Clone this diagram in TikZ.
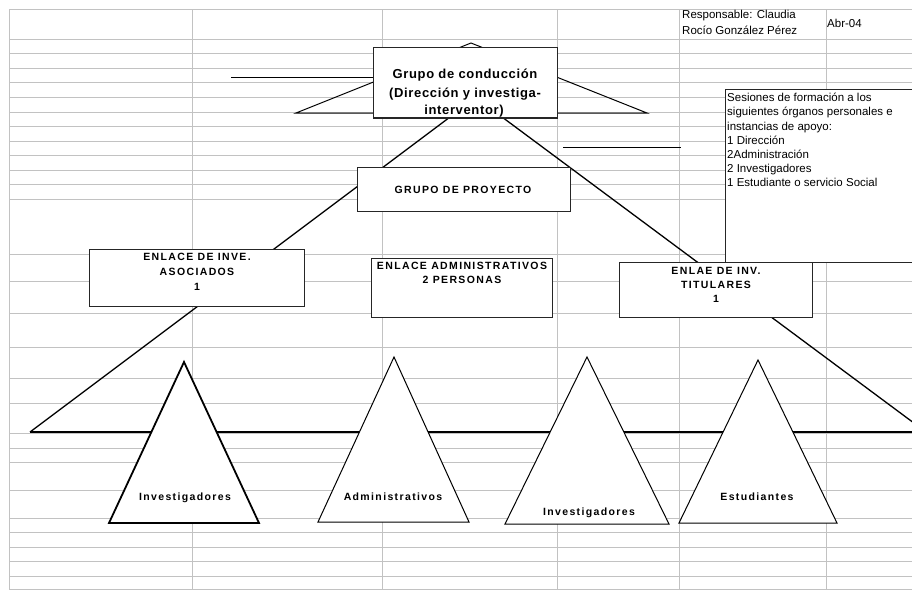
\documentclass[tikz,border=0pt]{standalone}
\usepackage{fontspec}
\setmainfont{Liberation Sans}
\newfontfamily\spacedfont[LetterSpace=13]{Liberation Sans}
\newfontfamily\medspaced[LetterSpace=5]{Liberation Sans}
\begin{document}
\begin{tikzpicture}[x=1pt,y=-1pt,
  gridline/.style={draw=black!24,line width=1pt},
  ink/.style={draw=black,line width=1.3pt},
  box/.style={draw=black!85,line width=1.2pt,fill=white,inner sep=0,anchor=north west},
  tri/.style={draw=black,line width=1pt,fill=white,line join=miter},
  t/.style={inner sep=0,text height=0.72em,text depth=0.2em},
  caps/.style={t,font=\spacedfont\bfseries\fontsize{10.5}{12}\selectfont},
  plain/.style={t,anchor=west,font=\fontsize{11.5}{13}\selectfont},
  big/.style={t,font=\medspaced\bfseries\fontsize{13}{16}\selectfont}]
\useasboundingbox (0,0) rectangle (912,590);
\clip (0,0) rectangle (912,590);
\fill[white] (0,0) rectangle (912,590);
% spreadsheet grid
\foreach \yy in {9.5,39,53,68,82,97,112,126,141,155,170,184,199,254,281,313,347,378,403,433,448,462,490,518,532,547,561,576,589}
  \draw[gridline] (9,\yy) -- (912,\yy);
\foreach \xx in {9,192,382,557,679,826}
  \draw[gridline] (\xx,9.5) -- (\xx,589);
% header texts
\node[plain] (resp1) at (682,16) {Responsable: Claudia};
\node[plain] (resp2) at (682,32) {Rocío González Pérez};
\node[plain] (fecha) at (827,25) {Abr-04};
% lines behind the boxes
\coordinate (apex) at (471,43);
\coordinate (bl) at (296,113);
\coordinate (br) at (647,113);
\draw[ink,line width=1pt] (apex) -- (bl) -- (br) -- cycle;
\coordinate (h1a) at (231,77); \coordinate (h1b) at (373,77);
\draw[ink,line width=1pt] (h1a) -- (h1b);
\coordinate (h2a) at (563,147); \coordinate (h2b) at (681,147);
\draw[ink,line width=1pt] (h2a) -- (h2b);
\coordinate (dL1) at (450,117); \coordinate (dL2) at (30,432);
\coordinate (dR1) at (502,117); \coordinate (dR2) at (926,432);
\coordinate (base2) at (912,432);
\draw[ink] (dL1) -- (dL2);
\draw[ink] (dR1) -- (dR2);
\draw[ink,line width=2pt] (dL2) -- (base2);
% boxes
\node[box,minimum width=184pt,minimum height=70pt] (cond) at (373,47) {};
\node[big] (cond1) at (465,76) {Grupo de conducción};
\node[big] (cond2) at (465,95) {(Dirección y investiga-};
\node[big] (cond3) at (464,112) {interventor)};
\draw[draw=black!85,line width=1.2pt] (cond.south west) -- (cond.south east);
\node[box,minimum width=200pt,minimum height=173pt] (ses) at (725,89) {};
\node[plain] (s1) at (727,99) {Sesiones de formación a los};
\node[plain] (s2) at (727,113) {siguientes órganos personales e};
\node[plain] (s3) at (727,128) {instancias de apoyo:};
\node[plain] (s4) at (727,142) {1 Dirección};
\node[plain] (s5) at (727,156) {2Administración};
\node[plain] (s6) at (727,170) {2 Investigadores};
\node[plain] (s7) at (727,184) {1 Estudiante o servicio Social};
\node[box,minimum width=213pt,minimum height=44pt] (proy) at (357,167) {};
\node[caps] (proyt) at (463,191) {GRUPO DE PROYECTO};
\node[box,minimum width=215pt,minimum height=57pt] (asoc) at (89,249) {};
\node[caps] (asoc1) at (197,258) {ENLACE DE INVE.};
\node[caps] (asoc2) at (197,273) {ASOCIADOS};
\node[caps] (asoc3) at (197,288) {1};
\node[box,minimum width=181pt,minimum height=59pt] (adm) at (371,258) {};
\node[caps] (adm1) at (462,267) {ENLACE ADMINISTRATIVOS};
\node[caps] (adm2) at (462,281) {2 PERSONAS};
\node[box,minimum width=193pt,minimum height=55pt] (tit) at (619,262) {};
\node[caps] (tit1) at (716,272) {ENLAE DE INV.};
\node[caps] (tit2) at (716,286) {TITULARES};
\node[caps] (tit3) at (716,300) {1};
% triangles
\draw[tri,line width=1.8pt] (184,362) coordinate (t1a) -- (259,523) coordinate (t1r) -- (109,523) coordinate (t1l) -- cycle;
\node[caps] (t1t) at (185,498) {Investigadores};
\draw[tri] (394,357) coordinate (t2a) -- (469,522) coordinate (t2r) -- (318,522) coordinate (t2l) -- cycle;
\node[caps] (t2t) at (393,498) {Administrativos};
\draw[tri] (587,357) coordinate (t3a) -- (669,524) coordinate (t3r) -- (505,524) coordinate (t3l) -- cycle;
\node[caps] (t3t) at (589,513) {Investigadores};
\draw[tri] (758,360) coordinate (t4a) -- (837,523) coordinate (t4r) -- (679,523) coordinate (t4l) -- cycle;
\node[caps] (t4t) at (757,498) {Estudiantes};
\end{tikzpicture}
\end{document}
